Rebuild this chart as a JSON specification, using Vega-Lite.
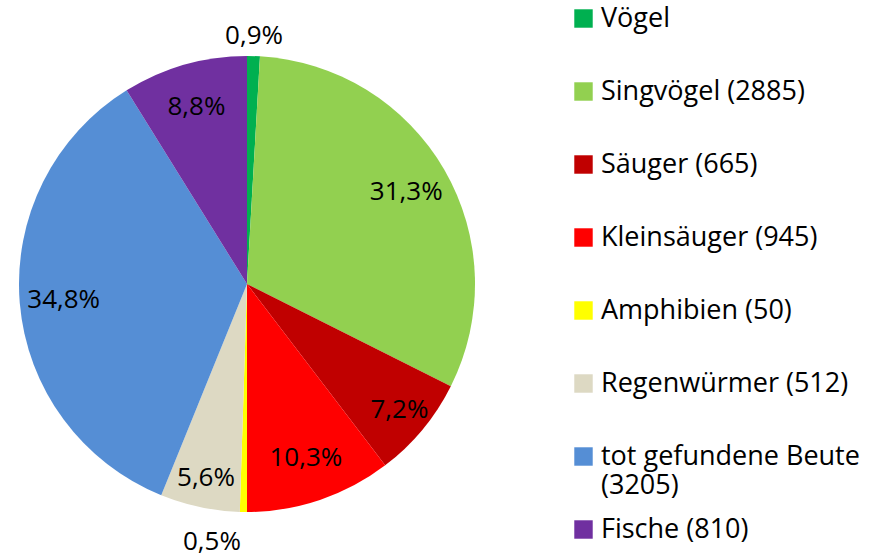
{
  "$schema": "https://vega.github.io/schema/vega-lite/v6.json",
  "width": 494,
  "height": 558,
  "padding": {"top": 5, "left": 0, "right": 5, "bottom": 0},
  "autosize": {"type": "pad"},
  "config": {"view": {"stroke": null}, "font": "Open Sans"},
  "data": {
    "values": [
      {"nr": 1, "Kategorie": "Vögel", "Prozent": 0.9, "Text": "0,9%"},
      {"nr": 2, "Kategorie": "Singvögel (2885)", "Prozent": 31.3, "Text": "31,3%"},
      {"nr": 3, "Kategorie": "Säuger (665)", "Prozent": 7.2, "Text": "7,2%"},
      {"nr": 4, "Kategorie": "Kleinsäuger (945)", "Prozent": 10.3, "Text": "10,3%"},
      {"nr": 5, "Kategorie": "Amphibien (50)", "Prozent": 0.5, "Text": "0,5%"},
      {"nr": 6, "Kategorie": "Regenwürmer (512)", "Prozent": 5.6, "Text": "5,6%"},
      {"nr": 7, "Kategorie": "tot gefundene Beute (3205)", "Prozent": 34.8, "Text": "34,8%"},
      {"nr": 8, "Kategorie": "Fische (810)", "Prozent": 8.8, "Text": "8,8%"}
    ]
  },
  "encoding": {
    "theta": {"field": "Prozent", "type": "quantitative", "stack": true},
    "order": {"field": "nr", "type": "quantitative"}
  },
  "layer": [
    {
      "mark": {"type": "arc", "outerRadius": 228},
      "encoding": {
        "color": {
          "field": "Kategorie",
          "type": "nominal",
          "sort": null,
          "scale": {
            "domain": ["Vögel", "Singvögel (2885)", "Säuger (665)", "Kleinsäuger (945)", "Amphibien (50)", "Regenwürmer (512)", "tot gefundene Beute (3205)", "Fische (810)"],
            "range": ["#00B050", "#92D050", "#C00000", "#FF0000", "#FFFF00", "#DDD9C3", "#558ED5", "#7030A0"]
          },
          "legend": {
            "title": null,
            "orient": "right",
            "offset": 76,
            "symbolType": "square",
            "symbolSize": 340,
            "symbolStrokeWidth": 0,
            "labelFontSize": 27,
            "labelFont": "Open Sans",
            "labelColor": "#000000",
            "labelOffset": 4,
            "labelLimit": 340,
            "labelLineHeight": 29,
            "rowPadding": 16,
            "labelExpr": "datum.label == 'tot gefundene Beute (3205)' ? ['tot gefundene Beute', '(3205)'] : [datum.label, '']"
          }
        }
      }
    },
    {
      "mark": {
        "type": "text",
        "radius": {"expr": "datum.Prozent == 0.9 ? 248 : datum.Prozent == 0.5 ? 258 : (datum.Prozent == 7.2 || datum.Prozent == 5.6) ? 198 : 184"},
        "dx": {"expr": "datum.Prozent == 0.5 ? -31 : 0"},
        "fontSize": 26,
        "font": "Open Sans",
        "color": "#000000"
      },
      "encoding": {
        "text": {"field": "Text"}
      }
    }
  ]
}
